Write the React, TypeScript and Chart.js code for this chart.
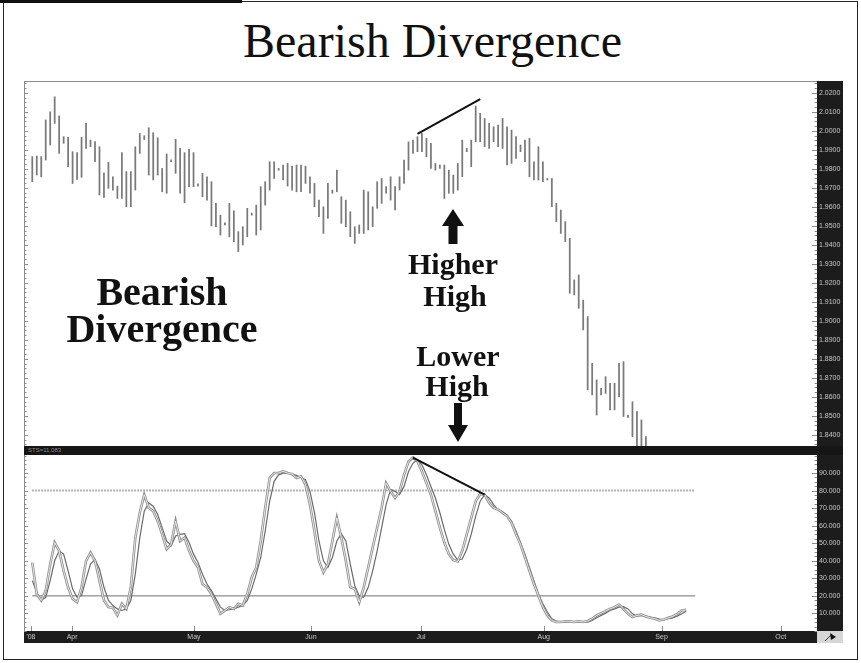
import React, { useEffect, useRef } from "react";
import { Chart, registerables } from "chart.js";

Chart.register(...registerables);

// Daily high / low of the pair, one entry per trading session (index = session number)
const BAR_HIGH = [
  1.9865, 1.9868, 1.9865, 2.0058, 2.0101, 2.018, 2.0079, 1.997, 1.9966, 1.9891,
  1.9886, 1.9966, 2.004, 1.9952, 1.9944, 1.9917, 1.978, 1.9835, 1.9759, 1.971,
  1.9886, 1.9786, 1.9786, 1.9917, 1.9987, 1.9975, 2.0017, 1.9991, 1.9964, 1.9803,
  1.9879, 1.9848, 1.9956, 1.9908, 1.9886, 1.9903, 1.9886, 1.9722, 1.9777, 1.9759,
  1.9733, 1.9619, 1.9557, 1.9516, 1.9619, 1.958, 1.947, 1.9496, 1.9593, 1.9568,
  1.961, 1.9707, 1.9733, 1.9838, 1.9838, 1.9803, 1.9821, 1.983, 1.9815, 1.9821,
  1.9821, 1.9815, 1.9759, 1.9724, 1.9636, 1.9601, 1.9724, 1.9689, 1.9794, 1.9654,
  1.9636, 1.9575, 1.9496, 1.9505, 1.9689, 1.968, 1.9601, 1.9733, 1.975, 1.9707,
  1.9759, 1.9707, 1.9759, 1.9847, 1.9943, 1.9952, 1.997, 1.9987, 1.9961, 1.9935,
  1.9829, 1.9821, 1.9821, 1.9794, 1.9768, 1.9829, 1.9952, 1.9908, 1.9952, 2.0131,
  2.0093, 2.0066, 2.004, 2.0022, 2.0031, 2.0066, 2.0022, 2.0005, 1.997, 1.9926,
  1.9952, 1.9961, 1.9838, 1.9917, 1.9838, 1.975, 1.975, 1.9619, 1.9584, 1.9523,
  1.9435, 1.9216, 1.9242, 1.911, 1.9023, 1.8777, 1.869, 1.8646, 1.8707, 1.8672,
  1.8672, 1.8777, 1.8786, 1.8505, 1.8575, 1.8523, 1.8479, 1.8391,
];
const BAR_LOW = [
  1.9733, 1.9768, 1.9759, 1.9847, 1.9926, 2.004, 1.9882, 1.9935, 1.9812, 1.9724,
  1.9745, 1.9756, 1.9908, 1.9917, 1.9838, 1.9663, 1.965, 1.9698, 1.9689, 1.9645,
  1.9645, 1.9601, 1.9601, 1.9689, 1.9882, 1.9955, 1.9768, 1.9742, 1.9768, 1.968,
  1.9672, 1.9838, 1.9777, 1.9672, 1.9622, 1.9707, 1.9707, 1.971, 1.9654, 1.9636,
  1.95, 1.9496, 1.9452, 1.9505, 1.9443, 1.9417, 1.9365, 1.94, 1.9443, 1.9557,
  1.9452, 1.9479, 1.961, 1.9689, 1.975, 1.9793, 1.9742, 1.971, 1.9689, 1.968,
  1.968, 1.9724, 1.9672, 1.9601, 1.9549, 1.9461, 1.954, 1.9672, 1.968, 1.9514,
  1.9496, 1.9443, 1.9408, 1.9461, 1.9461, 1.9479, 1.9496, 1.9593, 1.9619, 1.9672,
  1.9636, 1.9584, 1.9689, 1.9724, 1.9794, 1.9882, 1.9891, 1.9891, 1.9864, 1.9803,
  1.9794, 1.9803, 1.9645, 1.9672, 1.9672, 1.9689, 1.9759, 1.9891, 1.9812, 1.9943,
  1.9943, 1.9917, 1.9908, 1.9943, 1.9917, 1.9908, 1.9821, 1.9829, 1.9856, 1.9891,
  1.9838, 1.9759, 1.9742, 1.9742, 1.9733, 1.9742, 1.9602, 1.9523, 1.9461, 1.9418,
  1.9146, 1.9137, 1.9067, 1.8953, 1.8637, 1.8611, 1.8505, 1.8611, 1.8619, 1.8532,
  1.8532, 1.8602, 1.8497, 1.8493, 1.8391, 1.8303, 1.8286, 1.825,
];

// Slow stochastic: fast line (%K) and its signal (%D)
const STOCH_K = [
  39, 21, 17.4, 23, 38, 50.4, 45.7, 34.3, 24.9, 18.3,
  16.4, 24.9, 40, 44.7, 40, 28.7, 17.4, 13.6, 13.2, 8.9,
  15.5, 12.6, 24.9, 53.2, 67.4, 77.7, 70.2, 68.3, 62.6, 55.1,
  46.6, 49.4, 62.6, 51.3, 53.2, 45.7, 40, 36.2, 26.8, 24.9,
  21.1, 15.5, 9.8, 11.7, 13.6, 12.6, 15.5, 14.5, 21.1, 30.6,
  36.2, 51.3, 70.2, 87.2, 90, 90, 91, 90, 89.4, 87.2,
  88.1, 83.4, 72, 57, 40, 33.4, 38.1, 51.3, 64.5, 53.2,
  40, 24.9, 24, 16.4, 24.9, 36.2, 47.5, 58.9, 70.2, 84.3,
  79.6, 75.8, 79.6, 89, 96.6, 98.9, 96.6, 90.9, 84.3, 77.7,
  68.3, 58.9, 50.4, 43.8, 40.4, 39.6, 45.7, 55.1, 64.5, 74,
  78.1, 77.7, 73, 70.2, 69.2, 67.4, 65.5, 61.7, 55.1, 49.4,
  41.9, 34.3, 26.8, 20.2, 13.6, 8.9, 6, 5.1, 5.1, 5.5,
  5.5, 5.1, 5.5, 5.1, 5.7, 7, 8.9, 10.2, 11.3, 12.6,
  13.6, 15.1, 12.6, 9.8, 7.9, 8.9, 9.3, 8.3, 7.5, 7,
  6, 6.6, 7.5, 8.3, 9.8, 11.7, 12.1,
];
const STOCH_D = [
  28.7, 22, 17.4, 19.2, 28.7, 40, 45.7, 43.8, 34.3, 24,
  19.2, 20.2, 29.6, 38.1, 40.9, 35.3, 24.9, 17.4, 14.5, 12.6,
  11.7, 12.6, 17.4, 32.4, 53.2, 68.3, 73, 71.1, 66.4, 58.9,
  51.3, 48.5, 54.2, 55.1, 55.5, 50.4, 43.8, 39.1, 32.4, 26.8,
  23, 18.3, 13.6, 11.7, 12.1, 12.6, 13.6, 14.5, 17.4, 24,
  32.4, 41.9, 57, 74, 85.3, 89, 90, 90, 89.4, 88.7,
  87.5, 86.2, 79.6, 67.4, 51.3, 40, 36.2, 41.9, 51.3, 55.5,
  51.3, 38.1, 25.8, 20, 19.2, 24.9, 34.3, 45.7, 58.9, 72,
  80.6, 79.6, 77.7, 82.4, 90.9, 95.7, 97.5, 94.7, 89, 82.4,
  75.8, 67.4, 57.9, 49.4, 43.8, 40.4, 41, 46.6, 55.1, 65.5,
  74, 77.7, 75.8, 72, 69.2, 67.9, 66, 62.6, 57, 50.4,
  43.8, 36.2, 28.7, 21.1, 15.5, 10.8, 7, 5.7, 5.1, 5.1,
  5.3, 5.3, 5.3, 5.1, 5.1, 6, 7.5, 8.9, 10.2, 11.7,
  12.6, 13.6, 13.9, 12.6, 9.8, 8.5, 8.9, 8.5, 7.9, 7.5,
  6.8, 6.4, 7, 7.5, 8.5, 9.8, 11.3,
];

const PRICE_TICKS = [
  2.02, 2.01, 2.0, 1.99, 1.98, 1.97, 1.96, 1.95, 1.94, 1.93,
  1.92, 1.91, 1.9, 1.89, 1.88, 1.87, 1.86, 1.85, 1.84,
];
const STOCH_TICKS = [90, 80, 70, 60, 50, 40, 30, 20, 10];
const MONTH_LABELS = ["'08", "Apr", "May", "Jun", "Jul", "Aug", "Sep", "Oct"];
const MONTH_POS = [-0.3, 8.9, 36.1, 62.2, 86.8, 114.2, 140.5, 167.1];

// Trend lines joining the two price highs and the two oscillator highs
const PRICE_TREND = [
  { x: 86, y: 1.9985 },
  { x: 100, y: 2.0168 },
];
const STOCH_TREND = [
  { x: 85, y: 98.8 },
  { x: 101, y: 77.7 },
];
const OVERBOUGHT = 80;
const OVERSOLD = 20;
const LEVEL_SPAN = [0, 148];

const X_MIN = -1.85;
const X_MAX = 175.2;
const PRICE_MIN = 1.8342;
const PRICE_MAX = 2.0263;
const STOCH_MIN = 0;
const STOCH_MAX = 100.3;

const AXIS_BG = "#1c1c1c";
const AXIS_TEXT = "#c9c9c9";
const AXIS_FONT = { size: 7, family: "'Liberation Sans', Arial, sans-serif" };

// Small tick marks along the left edge and just inside the right axis strip
function edgeMarks(major: number[], minorStep: number, lo: number, hi: number, topRule: boolean, months: number[] | null) {
  return {
    id: "edgeMarks",
    afterDraw(chart: any) {
      const { ctx, chartArea: a, scales } = chart;
      const ys = scales.y;
      const xs = scales.x;
      ctx.save();
      ctx.strokeStyle = "#8c8c8c";
      ctx.lineWidth = 1;
      ctx.beginPath();
      ctx.moveTo(a.left + 0.5, a.top);
      ctx.lineTo(a.left + 0.5, a.bottom);
      if (topRule) {
        ctx.moveTo(a.left, a.top + 0.5);
        ctx.lineTo(a.right, a.top + 0.5);
      }
      const first = Math.ceil(lo / minorStep);
      const last = Math.floor(hi / minorStep);
      for (let k = first; k <= last; k++) {
        const py = Math.round(ys.getPixelForValue(k * minorStep)) + 0.5;
        ctx.moveTo(a.left, py);
        ctx.lineTo(a.left + 2.5, py);
        ctx.moveTo(a.right - 2.5, py);
        ctx.lineTo(a.right, py);
      }
      for (const v of major) {
        const py = Math.round(ys.getPixelForValue(v)) + 0.5;
        ctx.moveTo(a.left, py);
        ctx.lineTo(a.left + 4, py);
        ctx.moveTo(a.right - 5, py);
        ctx.lineTo(a.right, py);
      }
      if (months) {
        for (const m of months) {
          const px = Math.round(xs.getPixelForValue(m)) + 0.5;
          ctx.moveTo(px, a.bottom - 5);
          ctx.lineTo(px, a.bottom);
        }
      }
      ctx.stroke();
      ctx.restore();
    },
  };
}

function rightAxis(min: number, max: number, ticks: number[], digits: number) {
  return {
    position: "right" as const,
    min,
    max,
    backgroundColor: AXIS_BG,
    grid: { display: false, drawTicks: false },
    border: { display: false },
    ticks: {
      color: AXIS_TEXT,
      font: AXIS_FONT,
      padding: 2,
      autoSkip: false,
      callback: (v: any) => Number(v).toFixed(digits),
    },
    afterBuildTicks: (s: any) => {
      s.ticks = ticks.map((value) => ({ value }));
    },
    afterFit: (s: any) => {
      s.width = 26;
      s.paddingTop = 0;
      s.paddingBottom = 0;
    },
  };
}

function PriceChart() {
  const ref = useRef<HTMLCanvasElement | null>(null);
  useEffect(() => {
    if (!ref.current) return;
    const chart = new Chart(ref.current, {
      type: "bar",
      data: {
        datasets: [
          {
            type: "line",
            data: PRICE_TREND,
            borderColor: "#111",
            borderWidth: 2,
            pointRadius: 0,
            order: 0,
          } as any,
          {
            type: "bar",
            data: BAR_HIGH.map((h, i) => ({ x: i, y: [BAR_LOW[i], h] })),
            backgroundColor: "#7a7a7a",
            borderWidth: 0,
            barThickness: 1.1,
            grouped: false,
            order: 1,
          } as any,
        ],
      },
      options: {
        animation: false,
        responsive: false,
        maintainAspectRatio: false,
        events: [],
        layout: { padding: 0 },
        plugins: { legend: { display: false }, tooltip: { enabled: false } },
        scales: {
          x: { type: "linear", min: X_MIN, max: X_MAX, display: false, offset: false },
          y: rightAxis(PRICE_MIN, PRICE_MAX, PRICE_TICKS, 4),
        },
      } as any,
      plugins: [edgeMarks(PRICE_TICKS, 0.0025, PRICE_MIN, PRICE_MAX, true, null)],
    });
    return () => chart.destroy();
  }, []);
  return (
    <canvas
      ref={ref}
      width={819}
      height={365}
      style={{ position: "absolute", left: 24, top: 81, width: 819, height: 365 }}
    />
  );
}

function StochChart() {
  const ref = useRef<HTMLCanvasElement | null>(null);
  useEffect(() => {
    if (!ref.current) return;
    const line = (data: any[], color: string, width: number, order: number, dash?: number[]) => ({
      type: "line",
      data,
      borderColor: color,
      borderWidth: width,
      borderDash: dash || [],
      pointRadius: 0,
      tension: 0,
      order,
    });
    const chart = new Chart(ref.current, {
      type: "line",
      data: {
        datasets: [
          line(STOCH_TREND, "#111", 2, 0),
          line(STOCH_K.map((y, x) => ({ x, y })), "#f2f2f2", 0.9, 1),
          line(STOCH_K.map((y, x) => ({ x, y })), "#8e8e8e", 2.6, 2),
          line(STOCH_D.map((y, x) => ({ x, y })), "#6a6a6a", 1.2, 3),
          line(LEVEL_SPAN.map((x) => ({ x, y: OVERBOUGHT })), "#9a9a9a", 2, 4, [1.5, 1.5]),
          line(LEVEL_SPAN.map((x) => ({ x, y: OVERSOLD })), "#707070", 1, 4),
        ] as any,
      },
      options: {
        animation: false,
        responsive: false,
        maintainAspectRatio: false,
        events: [],
        layout: { padding: 0 },
        plugins: { legend: { display: false }, tooltip: { enabled: false } },
        scales: {
          x: {
            type: "linear",
            min: X_MIN,
            max: X_MAX,
            offset: false,
            position: "bottom",
            backgroundColor: AXIS_BG,
            grid: { display: false, drawTicks: false },
            border: { display: false },
            ticks: {
              color: AXIS_TEXT,
              font: AXIS_FONT,
              padding: 2,
              autoSkip: false,
              maxRotation: 0,
              callback: (_v: any, i: number) => MONTH_LABELS[i],
            },
            afterBuildTicks: (s: any) => {
              s.ticks = MONTH_POS.map((value) => ({ value }));
            },
            afterFit: (s: any) => {
              s.height = 12;
              s.paddingLeft = 0;
              s.paddingRight = 0;
            },
          },
          y: rightAxis(STOCH_MIN, STOCH_MAX, STOCH_TICKS, 3),
        },
      } as any,
      plugins: [edgeMarks(STOCH_TICKS, 2.5, STOCH_MIN, STOCH_MAX, false, MONTH_POS)],
    });
    return () => chart.destroy();
  }, []);
  return (
    <canvas
      ref={ref}
      width={819}
      height={188}
      style={{ position: "absolute", left: 24, top: 455, width: 819, height: 188 }}
    />
  );
}

const serif = "'Liberation Serif', 'Times New Roman', serif";

function Label({ text, cx, top, size }: { text: string; cx: number; top: number; size: number }) {
  return (
    <div
      style={{
        position: "absolute",
        left: cx - 150,
        width: 300,
        top,
        textAlign: "center",
        fontFamily: serif,
        fontWeight: "bold",
        fontSize: size,
        lineHeight: `${size}px`,
        color: "#111",
        whiteSpace: "nowrap",
      }}
    >
      {text}
    </div>
  );
}

export default function App() {
  return (
    <div
      style={{
        position: "absolute",
        left: 0,
        top: 0,
        width: 861,
        height: 663,
        background: "#fff",
        overflow: "hidden",
      }}
    >
      <div style={{ position: "absolute", left: 3, top: 1, width: 853, height: 657, border: "1.5px solid #222" }} />
      <div style={{ position: "absolute", left: 0, top: 0, width: 242, height: 3, background: "#111" }} />
      <div
        style={{
          position: "absolute",
          left: 2,
          width: 861,
          top: 17,
          textAlign: "center",
          fontFamily: serif,
          fontSize: 48,
          lineHeight: "48px",
          color: "#111",
        }}
      >
        Bearish Divergence
      </div>

      <PriceChart />
      <div style={{ position: "absolute", left: 24, top: 446, width: 819, height: 9, background: "#161616" }}>
        <span
          style={{
            position: "absolute",
            left: 4,
            top: 1,
            fontFamily: "'Liberation Sans', Arial, sans-serif",
            fontSize: 6,
            lineHeight: "7px",
            color: "#8a8a8a",
          }}
        >
          STS=11.083
        </span>
      </div>
      <StochChart />

      <Label text="Bearish" cx={162} top={272} size={40} />
      <Label text="Divergence" cx={162} top={309} size={40} />
      <Label text="Higher" cx={453} top={249} size={30} />
      <Label text="High" cx={455} top={281} size={30} />
      <Label text="Lower" cx={458} top={341} size={30} />
      <Label text="High" cx={457} top={371} size={30} />

      <svg
        width={861}
        height={663}
        style={{ position: "absolute", left: 0, top: 0, pointerEvents: "none" }}
      >
        <polygon
          points="453,209 464,226 457.5,226 457.5,244 448.5,244 448.5,226 442,226"
          fill="#111"
        />
        <polygon
          points="454,403 462,403 462,425 468,425 458,442 448,425 454,425"
          fill="#111"
        />
        <rect x={817} y={631} width={26} height={12} fill="#d6d6d6" />
        <line x1={825} y1={641} x2={832} y2={634} stroke="#333" strokeWidth={1} />
        <polygon points="830,633 836,637 831,640" fill="#111" />
      </svg>
    </div>
  );
}
